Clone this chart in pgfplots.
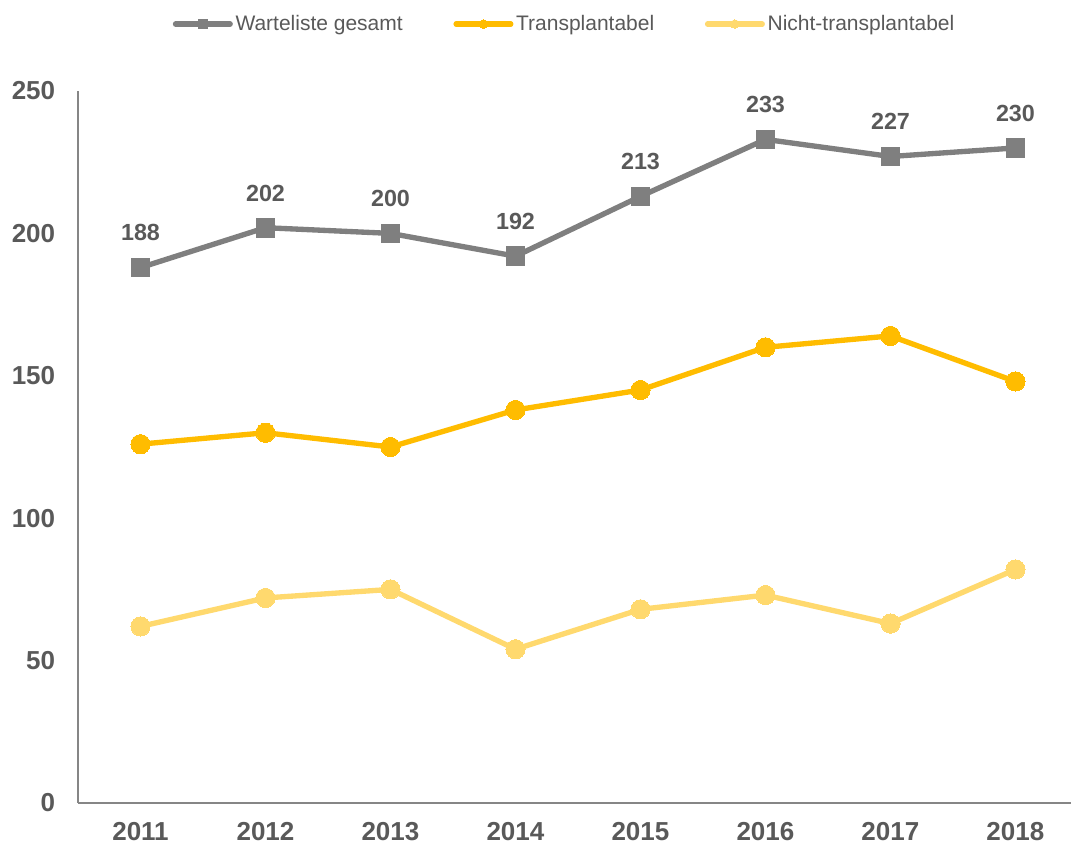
\documentclass[border=0pt]{standalone}
\usepackage{pgfplots}
\pgfplotsset{compat=1.18}
\usepackage{fontspec}
\setmainfont{Liberation Sans}
\definecolor{cgray}{RGB}{127,127,127}
\definecolor{corange}{RGB}{255,188,0}
\definecolor{clight}{RGB}{255,217,110}
\definecolor{ctext}{RGB}{89,89,89}
\definecolor{caxis}{RGB}{134,134,134}
\begin{document}
\begin{tikzpicture}
\path[use as bounding box] (0,0) rectangle (803.25pt,636.75pt);
\begin{axis}[
  at={(58.5pt,34.5pt)}, anchor=south west,
  scale only axis, width=745.3pt, height=534pt,
  xmin=2010.5, xmax=2018.45, ymin=0, ymax=250,
  axis x line=bottom, axis y line=left,
  axis line style={-, draw=caxis, line width=1.5pt},
  xtick={2011,...,2018}, ytick={0,50,...,250},
  xticklabels={2011,2012,2013,2014,2015,2016,2017,2018},
  tick style={draw=none},
  /pgf/number format/assume math mode=true,
  ticklabel style={font=\fontsize{19.5pt}{23pt}\selectfont\bfseries, text=ctext},
  yticklabel style={xshift=-11.5pt},
  xticklabel style={yshift=-9pt},
  clip=false,
  legend columns=3,
  legend style={at={(0.49,1.094)}, anchor=center, draw=none, fill=none,
    font=\fontsize{15.75pt}{19pt}\selectfont, text=ctext,
    /tikz/every even column/.append style={column sep=36pt}},
  legend image code/.code={
    \draw[line cap=round, mark repeat=2, mark phase=2, mark size=3.2pt]
      plot coordinates {(0pt,0pt)(20.5pt,0pt)(41pt,0pt)};},
]
\addplot[color=cgray, line width=4pt, mark=square*, mark size=7pt,
  mark options={line width=0pt},
  nodes near coords, point meta=explicit symbolic,
  every node near coord/.append style={anchor=center, yshift=26pt,
    font=\fontsize{17.5pt}{21pt}\selectfont\bfseries, text=ctext}]
  table[meta=label] {
x y label
2011 188 188
2012 202 202
2013 200 200
2014 192 192
2015 213 213
2016 233 233
2017 227 227
2018 230 230
};
\addlegendentry{Warteliste gesamt}
\addplot[color=corange, line width=4pt, mark=*, mark size=7.2pt,
  mark options={line width=0pt}]
  coordinates {(2011,126)(2012,130)(2013,125)(2014,138)(2015,145)(2016,160)(2017,164)(2018,148)};
\addlegendentry{Transplantabel}
\addplot[color=clight, line width=4pt, mark=*, mark size=7.2pt,
  mark options={line width=0pt}]
  coordinates {(2011,62)(2012,72)(2013,75)(2014,54)(2015,68)(2016,73)(2017,63)(2018,82)};
\addlegendentry{Nicht-transplantabel}
\end{axis}
\end{tikzpicture}
\end{document}
